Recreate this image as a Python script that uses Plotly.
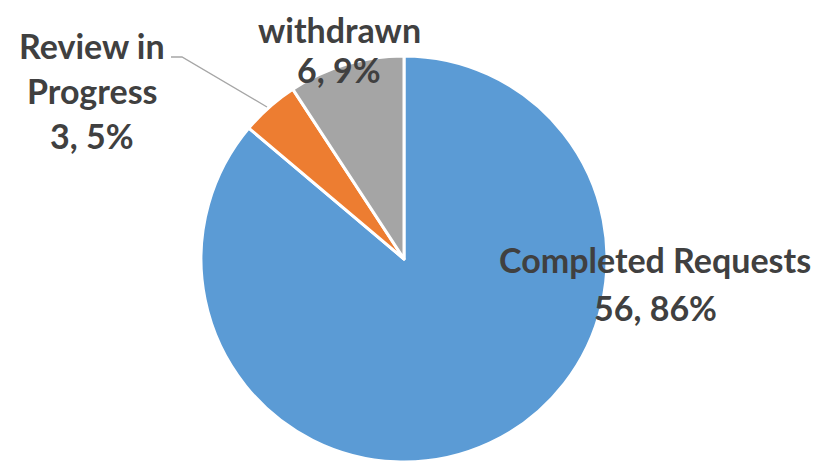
import plotly.graph_objects as go

labels = ["Completed Requests", "Review in Progress", "withdrawn"]
values = [56, 3, 6]
colors = ["#5B9BD5", "#ED7D31", "#A5A5A5"]
label_lines = [["Completed Requests"], ["Review in", "Progress"], ["withdrawn"]]

W, H = 822, 462
OFF = 8  # page offset of the figure inside the browser window
total = sum(values)
pcts = [round(v / total * 100) for v in values]

fig = go.Figure(go.Pie(
    labels=labels, values=values, sort=False, direction="clockwise", rotation=0,
    marker=dict(colors=colors, line=dict(color="white", width=3)),
    textinfo="none", hoverinfo="label+value+percent", showlegend=False,
    domain=dict(x=[193 / W, 599 / W], y=[8 / H, 1 - 48 / H]),
))

# label placement (window pixels): centre x, first-line y, line spacing
label_pos = [(655, 260, 47), (92, 45, 45), (339, 25, 44)]
for lines, v, p, (px, py, dy) in zip(label_lines, values, pcts, label_pos):
    all_lines = lines + [f"{v}, {p}%"]
    for i, line in enumerate(all_lines):
        ypos = 1 - (py - OFF + i * dy) / H
        anchor = "middle"
        if ypos > 1 - 24 / H:  # keep the topmost line inside the page
            ypos, anchor = 1.0, "top"
        fig.add_annotation(
            x=(px - OFF) / W, y=ypos, xref="paper", yref="paper",
            text=line, showarrow=False, xanchor="center", yanchor=anchor, borderpad=0,
            font=dict(family="Lato", size=34, color="#404040", weight="bold"),
        )

# leader line for the small slice
def pt(x, y):
    return f"{(x - OFF) / W} {1 - (y - OFF) / H}"

fig.add_shape(type="path", xref="paper", yref="paper",
              path=f"M {pt(171, 57)} L {pt(182, 57)} L {pt(267, 107)}",
              line=dict(color="#A6A6A6", width=1.3))

fig.update_layout(width=W, height=H, margin=dict(l=0, r=0, t=0, b=0),
                  paper_bgcolor="white", plot_bgcolor="white")
fig.write_html("out.html")
